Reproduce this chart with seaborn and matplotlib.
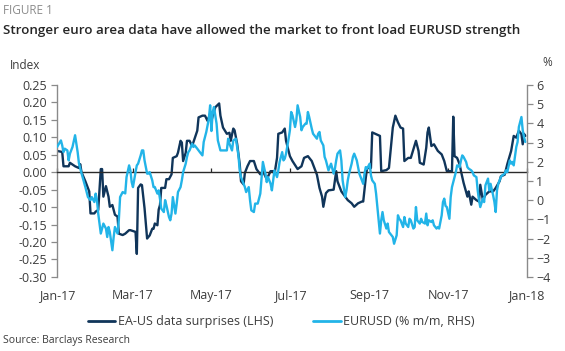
import numpy as np
import pandas as pd
import seaborn as sns
import matplotlib.pyplot as plt
import matplotlib.dates as mdates
from matplotlib.ticker import FuncFormatter

# EA-US data surprises (LHS), day offsets from 1 Jan 2017
surp_days = [0, 4, 5, 9, 10, 14, 17, 18, 19, 22, 25, 26, 29, 30, 32, 34, 35, 36, 38, 40,
             41, 43, 45, 47, 48, 51, 53, 56, 57, 61, 62, 63, 65, 66, 67, 68, 70, 72, 74, 75,
             76, 78, 79, 80, 81, 84, 85, 87, 89, 90, 93, 94, 96, 97, 98, 100, 101, 103, 105, 109,
             110, 113, 115, 117, 119, 120, 123, 126, 127, 129, 132, 134, 135, 137, 138, 140, 142, 143, 145, 146,
             148, 150, 153, 155, 158, 160, 163, 166, 168, 169, 171, 172, 175, 177, 178, 180, 181, 183, 187, 190,
             192, 195, 198, 202, 204, 206, 207, 209, 211, 215, 217, 218, 221, 224, 226, 229, 231, 234, 237, 238,
             240, 241, 244, 245, 248, 251, 252, 256, 258, 261, 263, 265, 267, 269, 270, 273, 275, 277, 279, 281,
             282, 285, 287, 288, 289, 291, 293, 296, 299, 301, 303, 305, 307, 308, 309, 311, 313, 314, 316, 319,
             320, 322, 323, 326, 328, 329, 331, 333, 336, 339, 341, 344, 345, 348, 350, 353, 355, 357, 359, 361,
             362, 363, 364]
surp_vals = [0.061, 0.058, 0.017, 0.017, 0.027, 0.017, 0.012, 0.023, 0.0, -0.026, -0.055, -0.118, -0.118, -0.113, -0.108, 0.009, 0.009, -0.07, -0.04, -0.07,
             -0.099, -0.094, -0.122, -0.127, -0.176, -0.18, -0.176, -0.166, -0.166, -0.171, -0.234, -0.045, -0.035, -0.037, -0.07, -0.103, -0.19, -0.181, -0.162, -0.162,
             -0.147, -0.152, -0.107, -0.094, -0.045, -0.045, -0.02, -0.02, -0.006, 0.041, 0.046, 0.056, 0.09, 0.085, 0.032, 0.056, 0.09, 0.09, 0.075, 0.119,
             0.157, 0.162, 0.162, 0.147, 0.168, 0.148, 0.186, 0.197, 0.162, 0.128, 0.11, 0.113, 0.09, 0.125, 0.12, 0.081, 0.023, -0.026, -0.035, -0.002,
             0.017, 0.032, 0.032, 0.009, -0.006, 0.003, -0.02, 0.003, 0.003, -0.006, 0.041, 0.11, 0.114, 0.125, 0.09, 0.061, 0.046, 0.032, 0.009, 0.017,
             0.041, 0.046, 0.032, -0.007, -0.045, -0.07, -0.099, -0.06, -0.052, -0.05, 0.003, -0.026, -0.055, -0.07, -0.08, -0.089, -0.099, -0.089, -0.084, -0.084,
             -0.016, 0.012, 0.012, 0.114, 0.109, 0.104, 0.003, 0.006, 0.012, 0.128, 0.162, 0.143, 0.128, 0.125, 0.032, 0.041, 0.041, 0.066, 0.09, 0.061,
             0.027, 0.022, 0.07, 0.114, 0.128, 0.075, 0.08, 0.061, 0.051, 0.032, 0.003, 0.003, 0.003, 0.159, 0.046, 0.041, 0.022, 0.003, -0.03, -0.07,
             -0.055, -0.093, -0.07, -0.08, -0.084, -0.036, -0.08, -0.065, -0.055, -0.055, -0.045, -0.026, -0.012, -0.007, 0.023, 0.061, 0.104, 0.099, 0.119, 0.109,
             0.08, 0.11, 0.104]

# EURUSD % m/m (RHS)
fx_days = [0, 3, 4, 5, 6, 8, 9, 10, 12, 14, 16, 17, 19, 22, 24, 26, 27, 29, 30, 31,
           32, 34, 35, 36, 38, 39, 40, 41, 43, 44, 45, 47, 48, 49, 51, 53, 54, 56, 57, 58,
           59, 61, 62, 63, 65, 66, 67, 68, 70, 71, 72, 74, 75, 76, 78, 79, 80, 81, 83, 84,
           85, 87, 88, 89, 90, 92, 93, 94, 96, 97, 98, 100, 101, 102, 103, 105, 106, 107, 109, 111,
           113, 114, 116, 118, 119, 120, 121, 122, 124, 125, 127, 129, 132, 133, 134, 136, 137, 139, 141, 142,
           143, 145, 146, 147, 149, 150, 151, 153, 154, 156, 158, 159, 160, 162, 163, 164, 166, 167, 168, 169,
           171, 172, 173, 175, 176, 177, 178, 180, 181, 182, 183, 185, 186, 187, 189, 190, 191, 193, 194, 195,
           196, 198, 199, 202, 203, 204, 205, 207, 208, 209, 211, 212, 213, 215, 216, 217, 218, 220, 221, 222,
           224, 225, 226, 227, 229, 230, 231, 233, 234, 235, 237, 238, 239, 240, 241, 243, 244, 245, 247, 248,
           249, 251, 252, 253, 254, 256, 257, 258, 260, 261, 262, 264, 265, 266, 267, 269, 270, 271, 273, 274,
           275, 277, 278, 279, 280, 282, 283, 284, 286, 287, 288, 289, 291, 292, 293, 295, 296, 297, 299, 300,
           301, 302, 303, 305, 306, 307, 309, 310, 311, 313, 314, 315, 316, 318, 319, 320, 322, 323, 324, 326,
           327, 328, 329, 331, 332, 333, 335, 336, 337, 339, 340, 341, 342, 343, 344, 345, 346, 348, 349, 350,
           352, 353, 354, 355, 357, 358, 359, 361, 362, 363, 364]
fx_vals = [2.77, 3.11, 2.85, 2.5, 2.68, 2.59, 2.07, 2.42, 2.77, 3.38, 2.5, 1.92, 1.4, 0.68, 0.16, 0.0, 0.16, -0.1, 0.34, 0.0,
           -0.7, -1.74, -1.48, -1.22, -1.48, -1.92, -1.4, -1.66, -2.61, -1.92, -1.4, -1.74, -1.05, 0.16, 0.42, 0.35, 1.2, 1.81, 1.55, 0.94,
           0.68, 1.46, 1.81, 1.9, 2.33, 2.59, 2.59, 2.07, 1.38, 1.38, 1.46, 1.03, 0.68, 0.68, 0.34, 0.51, 0.07, -0.44, -0.62, 0.0,
           -0.27, -0.88, -1.05, -0.7, 0.16, -0.7, -0.18, 0.42, 0.68, 1.03, 1.46, 1.9, 2.25, 2.5, 2.59, 2.94, 2.77, 2.85, 2.68, 2.5,
           2.33, 3.03, 3.55, 4.24, 4.94, 3.6, 4.6, 4.85, 3.98, 3.11, 2.59, 2.59, 2.59, 3.2, 2.94, 2.59, 3.11, 3.2, 2.33, 1.55,
           1.2, 0.85, 0.68, 0.42, 0.68, 0.0, -0.53, -0.62, -0.18, -0.18, 0.34, 1.2, 1.99, 1.38, 0.94, 1.2, 0.85, 0.51, 1.03, 1.55,
           1.2, 1.55, 1.99, 2.5, 2.07, 2.16, 2.42, 3.2, 3.64, 4.59, 4.42, 3.81, 4.16, 4.94, 4.33, 3.64, 3.81, 3.98, 3.98, 4.59,
           4.33, 3.72, 3.46, 3.2, 3.46, 3.55, 3.11, 2.85, 2.25, 2.07, 1.55, 1.72, 1.9, 1.38, 1.64, 2.07, 2.42, 2.59, 2.07, 1.03,
           0.16, 0.51, 1.03, 1.38, 1.9, 2.25, 2.42, 2.07, 1.72, 1.38, 1.03, 0.85, 1.38, 1.72, 1.64, 1.9, 1.29, 1.03, 0.85, 0.34,
           -0.36, -1.74, -1.05, -0.62, -1.05, -1.48, -1.22, -1.66, -1.83, -1.92, -2.27, -1.83, -0.79, -0.97, -1.05, -1.4, -0.88, -1.22, -1.4, -0.97,
           -1.05, -1.48, -1.4, -0.36, -1.05, -1.22, -0.97, -1.14, -1.22, -0.7, -1.31, -1.05, -1.14, -1.05, -1.31, -1.48, -1.4, -1.48, -0.79, -0.1,
           0.08, -0.3, -0.36, -0.97, 0.16, 0.68, 1.2, 1.46, 1.81, 1.72, 2.07, 2.33, 2.25, 1.99, 1.72, 1.64, 1.55, 1.46, 1.29, 1.2,
           0.51, 0.0, -0.36, 0.08, -0.1, 0.77, 1.12, 0.51, 0.85, 0.25, -0.1, -0.62, 0.51, 0.85, 1.03, 1.2, 1.29, 1.38, 1.55, 1.46,
           2.07, 1.9, 1.99, 1.81, 2.77, 3.03, 3.81, 4.33, 3.64, 3.29, 3.03]

start = pd.Timestamp("2017-01-01")
surp = pd.DataFrame({"date": start + pd.to_timedelta(surp_days, unit="D"), "value": surp_vals})
fx = pd.DataFrame({"date": start + pd.to_timedelta(fx_days, unit="D"), "value": fx_vals})

dark = "#10355a"
light = "#22b4e8"
grey = "#8a8a8a"
txt = "#3c3c3c"

sns.set_theme(style="white")
plt.rcParams["font.family"] = ["Open Sans", "DejaVu Sans"]

fig = plt.figure(figsize=(5.65, 3.51), dpi=100)
ax = fig.add_axes([0.101, 0.211, 0.831, 0.547])
ax2 = ax.twinx()

sns.lineplot(data=surp, x="date", y="value", ax=ax, color=dark, linewidth=1.7,
             estimator=None, legend=False)
sns.lineplot(data=fx, x="date", y="value", ax=ax2, color=light, linewidth=1.7,
             estimator=None, legend=False)

# left axis
ax.set_ylim(-0.30, 0.25)
ax.set_yticks(np.round(np.arange(-0.30, 0.2501, 0.05), 2))
ax.yaxis.set_major_formatter(FuncFormatter(lambda v, p: f"{round(v, 2) + 0.0:.2f}"))
ax.set_xlim(start, pd.Timestamp("2018-01-01"))
ax.xaxis.set_major_locator(mdates.MonthLocator(bymonth=[1, 3, 5, 7, 9, 11]))
ax.xaxis.set_major_formatter(mdates.DateFormatter("%b-%y"))
ax.set_xlabel("")
ax.set_ylabel("")

ax.spines["top"].set_visible(False)
ax.spines["right"].set_visible(False)
ax.spines["left"].set_color(grey)
ax.spines["left"].set_linewidth(1.0)
ax.spines["bottom"].set_position(("data", 0))
ax.spines["bottom"].set_color("#2a2a2a")
ax.spines["bottom"].set_linewidth(1.0)
ax.tick_params(axis="y", direction="out", length=4, width=0.9, color=grey,
               labelsize=9, labelcolor=txt, pad=3, left=True)
ax.tick_params(axis="x", direction="in", length=3, width=0.9, color="#2a2a2a",
               labelsize=9, labelcolor=txt, pad=84, bottom=True)

# right axis
ax2.set_ylim(-4, 6)
ax2.set_yticks(range(-4, 7))
ax2.set_ylabel("")
for s in ["top", "left", "bottom"]:
    ax2.spines[s].set_visible(False)
ax2.spines["right"].set_color(grey)
ax2.spines["right"].set_linewidth(1.0)
ax2.tick_params(axis="y", direction="out", length=4, width=0.9, color=grey,
                labelsize=9, labelcolor=txt, pad=3, right=True)

# texts
fig.text(0.006, 0.971, "FIGURE 1", color="#8c8c8c", fontsize=8.5, va="center")
fig.text(0.006, 0.912, "Stronger euro area data have allowed the market to front load EURUSD strength",
         color="#262626", fontsize=9.6, fontweight="semibold", va="center")
fig.text(0.018, 0.812, "Index", color=txt, fontsize=8.5, va="center")
fig.text(0.968, 0.822, "%", color=txt, fontsize=8.5, va="center", ha="center")
fig.text(0.006, 0.031, "Source: Barclays Research", color=txt, fontsize=7.5, va="center")

handles = [plt.Line2D([], [], color=dark, linewidth=2),
           plt.Line2D([], [], color=light, linewidth=2)]
fig.legend(handles, ["EA-US data surprises (LHS)", "EURUSD (% m/m, RHS)"],
           loc="center", bbox_to_anchor=(0.498, 0.083), ncol=2, frameon=False,
           fontsize=9, handlelength=2.2, handletextpad=0.2, columnspacing=3.2,
           labelcolor=txt)

fig.savefig("out.png", dpi=100)
